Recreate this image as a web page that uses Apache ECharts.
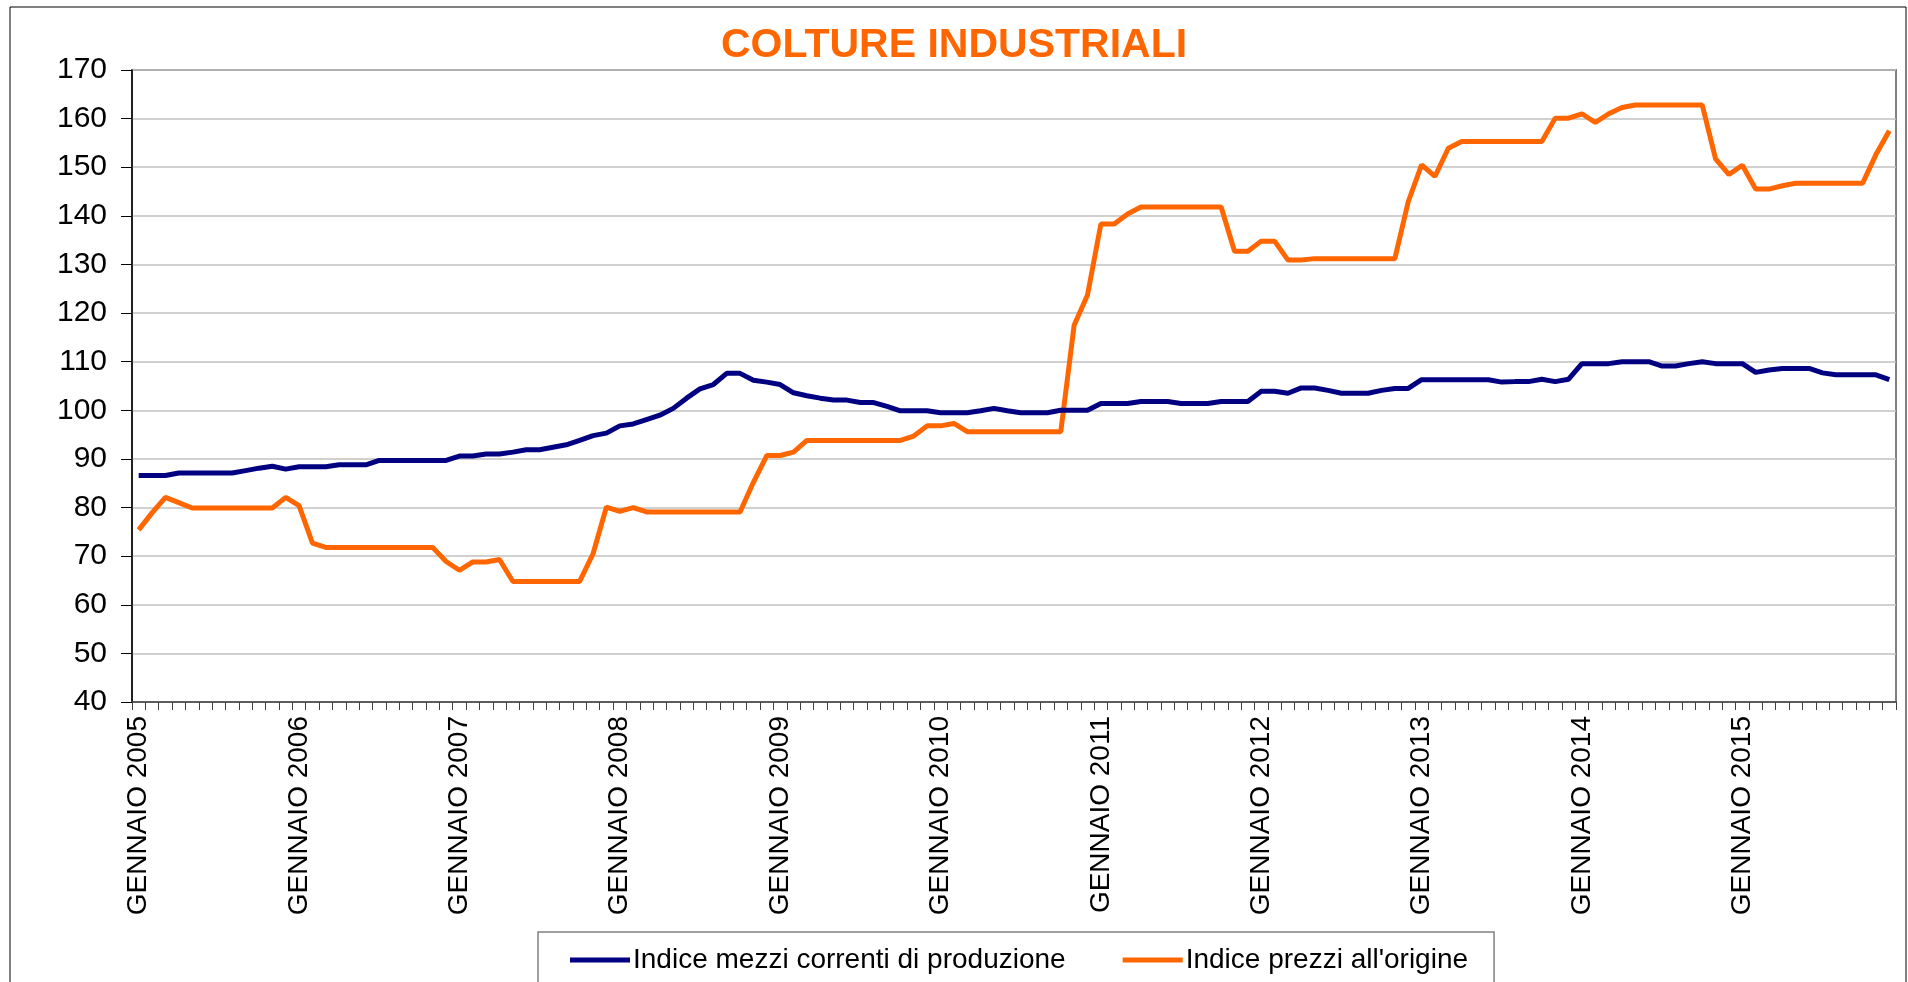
<!DOCTYPE html>
<html>
<head>
<meta charset="utf-8">
<title>Colture industriali</title>
<script src="https://cdn.jsdelivr.net/npm/echarts@6/dist/echarts.min.js"></script>
<style>
  html, body { margin: 0; padding: 0; background: #fff; }
  #chart { width: 1908px; height: 982px; }
</style>
</head>
<body>
<div id="chart"></div>
<script>
const COLORS = {
  mezzi:  '#000080',
  prezzi: '#FF6600',
  grid:   '#C0C0C0',
  frame:  '#808080',
  text:   '#000000',
};
const FONT = "'Liberation Sans', Arial, sans-serif";

const years  = [2005, 2006, 2007, 2008, 2009, 2010, 2011, 2012, 2013, 2014, 2015];
const months = ['GENNAIO', 'FEBBRAIO', 'MARZO', 'APRILE', 'MAGGIO', 'GIUGNO',
                'LUGLIO', 'AGOSTO', 'SETTEMBRE', 'OTTOBRE', 'NOVEMBRE', 'DICEMBRE'];
const categories = years.flatMap((y) => months.map((m) => m + ' ' + y));

// Indice mezzi correnti di produzione (gen 2005 - dic 2015)
const mezziCorrenti = [
  86.6, 86.6, 86.6, 87.1, 87.1, 87.1, 87.1, 87.1, 87.6, 88.1, 88.5, 87.9,
  88.4, 88.4, 88.4, 88.8, 88.8, 88.8, 89.7, 89.7, 89.7, 89.7, 89.7, 89.7,
  90.6, 90.6, 91.0, 91.0, 91.4, 91.9, 91.9, 92.4, 92.9, 93.8, 94.8, 95.3,
  96.8, 97.2, 98.1, 99.0, 100.4, 102.5, 104.4, 105.3, 107.6, 107.6, 106.2, 105.8,
  105.3, 103.6, 103.0, 102.5, 102.1, 102.1, 101.6, 101.6, 100.8, 99.9, 99.9, 99.9,
  99.5, 99.5, 99.5, 99.9, 100.4, 99.9, 99.5, 99.5, 99.5, 100.0, 100.0, 100.0,
  101.4, 101.4, 101.4, 101.8, 101.8, 101.8, 101.4, 101.4, 101.4, 101.8, 101.8, 101.8,
  103.9, 103.9, 103.5, 104.6, 104.6, 104.1, 103.5, 103.5, 103.5, 104.1, 104.5, 104.5,
  106.3, 106.3, 106.3, 106.3, 106.3, 106.3, 105.8, 105.9, 105.9, 106.4, 105.9, 106.4,
  109.6, 109.6, 109.6, 110.0, 110.0, 110.0, 109.1, 109.1, 109.6, 110.0, 109.6, 109.6,
  109.6, 107.8, 108.3, 108.6, 108.6, 108.6, 107.7, 107.3, 107.3, 107.3, 107.3, 106.3,
];

// Indice prezzi all'origine (gen 2005 - dic 2015)
const prezziOrigine = [
  75.4, 78.9, 82.1, 81.0, 79.9, 79.9, 79.9, 79.9, 79.9, 79.9, 79.9, 82.1,
  80.4, 72.7, 71.8, 71.8, 71.8, 71.8, 71.8, 71.8, 71.8, 71.8, 71.8, 68.9,
  67.1, 68.8, 68.8, 69.3, 64.8, 64.8, 64.8, 64.8, 64.8, 64.8, 70.5, 80.1,
  79.2, 80.0, 79.1, 79.1, 79.1, 79.1, 79.1, 79.1, 79.1, 79.1, 85.2, 90.7,
  90.7, 91.4, 93.8, 93.8, 93.8, 93.8, 93.8, 93.8, 93.8, 93.8, 94.7, 96.8,
  96.8, 97.3, 95.6, 95.6, 95.6, 95.6, 95.6, 95.6, 95.6, 95.6, 117.5, 123.7,
  138.3, 138.3, 140.4, 141.8, 141.8, 141.8, 141.8, 141.8, 141.8, 141.8, 132.7, 132.7,
  134.8, 134.8, 130.9, 130.9, 131.2, 131.2, 131.2, 131.2, 131.2, 131.2, 131.2, 142.9,
  150.5, 148.1, 153.9, 155.3, 155.3, 155.3, 155.3, 155.3, 155.3, 155.3, 160.1, 160.1,
  161.0, 159.2, 161.0, 162.3, 162.8, 162.8, 162.8, 162.8, 162.8, 162.8, 151.7, 148.5,
  150.4, 145.5, 145.5, 146.2, 146.7, 146.7, 146.7, 146.7, 146.7, 146.7, 152.6, 157.5,
];

const yTicks = { min: 40, max: 170, interval: 10 };

const chart = echarts.init(document.getElementById('chart'), null, { renderer: 'canvas' });

chart.setOption({
  backgroundColor: '#ffffff',
  animation: false,
  textStyle: { fontFamily: FONT },
  graphic: [
    {
      type: 'rect',
      shape: { x: 10, y: 7, width: 1896, height: 1000 },
      style: { fill: 'none', stroke: '#000', lineWidth: 1 },
      silent: true,
      z: -10,
    },
  ],
  title: {
    text: 'COLTURE INDUSTRIALI',
    left: 'center',
    top: 20,
    textStyle: { color: COLORS.prezzi, fontSize: 41, fontWeight: 'bold', fontFamily: FONT },
  },
  grid: {
    left: 132, right: 12, top: 70, bottom: 280,
    show: true,
    borderColor: COLORS.frame,
    borderWidth: 2,
  },
  legend: {
    left: 538,
    top: 932,
    padding: [14, 26, 14, 32],
    itemGap: 57,
    itemWidth: 60,
    itemHeight: 5,
    icon: 'rect',
    borderColor: COLORS.frame,
    borderWidth: 1.5,
    textStyle: { color: COLORS.text, fontSize: 28, fontFamily: FONT, padding: [0, 0, 0, -2] },
    data: ['Indice mezzi correnti di produzione', "Indice prezzi all'origine"],
  },
  xAxis: {
    type: 'category',
    data: categories,
    boundaryGap: true,
    axisLine: { lineStyle: { color: '#404040', width: 1.5 } },
    axisTick: { show: true, interval: 0, length: 8, lineStyle: { color: '#404040' } },
    axisLabel: {
      interval: 11,
      rotate: 90,
      margin: 14,
      color: COLORS.text,
      fontSize: 28,
      fontFamily: FONT,
    },
    splitLine: { show: false },
  },
  yAxis: {
    type: 'value',
    min: yTicks.min,
    max: yTicks.max,
    interval: yTicks.interval,
    axisLine: { show: true, lineStyle: { color: '#000', width: 1.5 } },
    axisTick: { show: true, length: 11, lineStyle: { color: '#000' } },
    axisLabel: { color: COLORS.text, fontSize: 30, fontFamily: FONT, margin: 25 },
    splitLine: { lineStyle: { color: COLORS.grid, width: 1.5 } },
  },
  series: [
    {
      name: 'Indice mezzi correnti di produzione',
      type: 'line',
      data: mezziCorrenti,
      symbol: 'none',
      lineStyle: { color: COLORS.mezzi, width: 5 },
      itemStyle: { color: COLORS.mezzi },
      z: 3,
    },
    {
      name: "Indice prezzi all'origine",
      type: 'line',
      data: prezziOrigine,
      symbol: 'none',
      lineStyle: { color: COLORS.prezzi, width: 5 },
      itemStyle: { color: COLORS.prezzi },
      z: 2,
    },
  ],
});
</script>
</body>
</html>
